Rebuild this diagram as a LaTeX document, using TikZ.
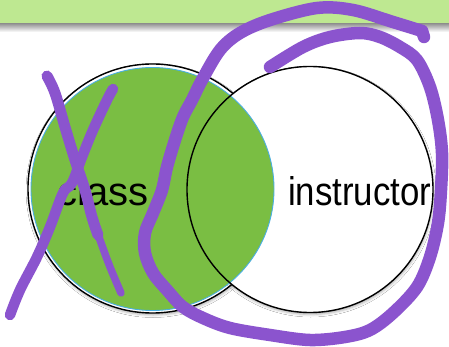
\documentclass[tikz,border=0pt]{standalone}
\usepackage{fontspec}
\setmainfont{Liberation Sans}
\usetikzlibrary{shadows.blur}
\definecolor{barGreen}{RGB}{190,232,145}
\definecolor{vennGreen}{RGB}{122,190,67}
\definecolor{edgeBlue}{RGB}{75,175,225}
\definecolor{penPurple}{RGB}{139,84,206}
\begin{document}
\begin{tikzpicture}[x=1pt,y=-1pt,
  ink/.style={draw=penPurple, line cap=round, line join=round},
  vennText/.style={inner sep=0pt, anchor=base west, font=\fontsize{40}{40}\selectfont},
  softShadow/.style={blur shadow={shadow xshift=0.6pt, shadow yshift=-2pt,
      shadow blur radius=2.5pt, shadow opacity=30}},
  ring/.style={draw=black, line width=1.4pt}]
\useasboundingbox (0,0) rectangle (449,347);
\fill[white] (0,0) rectangle (449,347);

% header bar and its shadow
\shade[top color=black!45, bottom color=white] (0,23) rectangle (449,32);
\fill[barGreen] (0,0) rectangle (449,23);

% Venn circles
\path[ring, fill=white, softShadow] (152.5,188.5) circle[radius=124.5pt];
\path[fill=white, softShadow] (310,189.5) circle[radius=123pt];
\path[fill=vennGreen, draw=edgeBlue, line width=0.9pt] (152.5,189) circle[radius=121.5pt];
\draw[ring] (310,189.5) circle[radius=123pt];

% set labels
\node[vennText] (class) at (57.5,205) {class};
\node[vennText] (instructor) at (288,205) {\scalebox{0.87}[1]{instructor}};

% pen strokes: cross over the left set
\draw[ink, line width=7.5pt] plot[smooth, tension=0.6] coordinates
  {(47,76) (55,93) (65,127) (75,160) (85,190) (92,217) (100,240) (110,267) (121,293)};
\draw[ink, line width=11pt] plot[smooth, tension=0.6] coordinates
  {(47,76) (55,93) (65,127) (75,160) (85,190) (92,217) (98,235)};
\draw[ink, line width=10.5pt] plot[smooth, tension=0.6] coordinates
  {(113,89) (107,100) (93,130) (82,157) (72,183) (63,193) (50,227) (37,257) (20,290) (10,315)};

% pen stroke: loop round the right set
\draw[ink, line width=12.5pt] (424,37) -- (422,31);
\draw[ink, line width=12.5pt] plot[smooth, tension=0.55] coordinates
  {(422,31) (393,22) (353,10) (317,8) (270,20) (240,33) (220,50) (202,80)
   (192,100) (183,117) (175,140) (167,167) (162,190) (153,213) (145,233)
   (145,253) (153,273) (167,290) (183,307) (203,318) (230,328) (270,335)
   (310,340) (345,337) (370,330) (393,313) (417,287) (430,257) (438,223)
   (441,190) (442,153) (438,120) (430,87) (417,60) (400,47) (380,37)
   (360,33) (330,37) (303,47) (270,67)};
\end{tikzpicture}
\end{document}
